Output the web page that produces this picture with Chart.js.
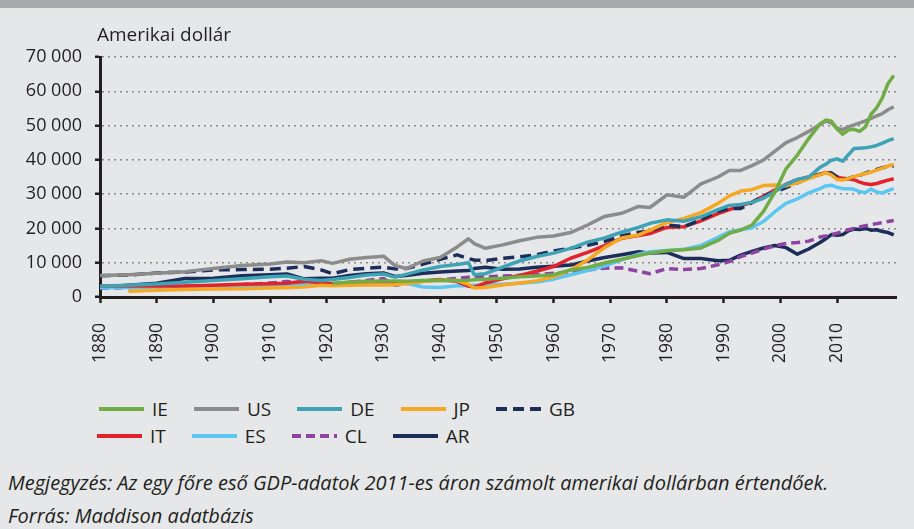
<!DOCTYPE html>
<html lang="hu">
<head>
<meta charset="utf-8">
<script src="https://cdn.jsdelivr.net/npm/chart.js@4.4.1/dist/chart.umd.min.js"></script>
<style>
  html, body { margin: 0; padding: 0; }
  body {
    width: 914px; height: 529px; overflow: hidden; position: relative;
    background: #e6e7e9; color: #231f20; font-family: "Open Sans", sans-serif;
  }
  .topbar { position: absolute; left: 0; top: 0; width: 914px; height: 8px; background: #a7a9ac; }
  #chart { position: absolute; left: 0; top: 0; }
  .unit { position: absolute; left: 97px; top: 21px; font-size: 19px; line-height: 26px; }
  #legend { position: absolute; left: 99px; top: 395px; font-size: 19px; }
  .row { display: flex; height: 27px; align-items: center; }
  .row + .row { margin-left: -2px; }
  .item { display: flex; align-items: center; margin-right: 26px; }
  .item svg { margin-right: 8px; }
  .note { position: absolute; left: 8px; font-style: italic; font-size: 20px; line-height: 27px; white-space: nowrap; }
</style>
</head>
<body>
<div class="topbar"></div>
<canvas id="chart" width="914" height="380"></canvas>
<div class="unit">Amerikai dollár</div>
<div id="legend"></div>
<div class="note" style="top:469px">Megjegyzés: Az egy főre eső GDP-adatok 2011-es áron számolt amerikai dollárban értendőek.</div>
<div class="note" style="top:502px">Forrás: Maddison adatbázis</div>
<script>
// GDP per capita, 2011 USD
const years = [1880, 1885, 1890, 1895, 1900, 1905, 1910, 1913, 1916, 1919,
  1921, 1924, 1927, 1930, 1932, 1934, 1937, 1940, 1943, 1945,
  1946, 1948, 1951, 1954, 1957, 1960, 1963, 1966, 1969, 1972,
  1975, 1977, 1980, 1983, 1986, 1989, 1991, 1993, 1995, 1997,
  1999, 2001, 2003, 2005, 2007, 2008, 2009, 2010, 2011, 2012,
  2013, 2014, 2015, 2016, 2017, 2018, 2019, 2020];

const ieValues = [null, null, null, null, null, null, null, null, null, null,
  4000, 4300, 4600, 4700, 4700, 4600, 4800, 4900, 4800, 4900,
  5000, 5200, 5500, 5900, 6100, 6500, 7900, 8600, 9900, 11000,
  12100, 12800, 13500, 13800, 14300, 16500, 18600, 19500, 21000, 24900,
  30500, 37400, 41400, 46200, 50500, 51600, 51300, 49000, 47500, 48700,
  48900, 48300, 49600, 53300, 55200, 58100, 62300, 64600];
const usValues = [6300, 6500, 6900, 7400, 8300, 9200, 9600, 10200, 10000, 10600,
  9800, 11000, 11500, 11900, 9200, 8300, 10500, 11500, 14600, 17000,
  15600, 14200, 15200, 16400, 17400, 17800, 18800, 21000, 23500, 24400,
  26400, 26100, 29800, 29100, 33000, 35000, 36900, 36900, 38300, 39900,
  42500, 45000, 46500, 48300, 50300, 51300, 50800, 49200, 48800, 49600,
  50200, 50800, 51400, 52100, 52800, 53500, 54600, 55500];
const deValues = [3100, 3400, 3800, 4300, 4800, 5300, 5900, 6100, 5200, 4800,
  5100, 5700, 6400, 6700, 5800, 6600, 7900, 8900, 9500, 10000,
  6500, 6800, 8700, 10500, 11800, 12800, 14200, 16000, 17200, 18900,
  20300, 21500, 22500, 22100, 23400, 25500, 26700, 27000, 27600, 28800,
  30700, 32800, 34300, 35000, 37800, 38700, 39900, 40300, 39600, 41500,
  43300, 43400, 43500, 43800, 44200, 44900, 45600, 46200];
const jpValues = [null, 1700, 2000, 2200, 2300, 2400, 2600, 2700, 2900, 3400,
  3300, 3400, 3500, 3500, 3600, 3900, 4500, 4900, 4800, 3700,
  2600, 2800, 3500, 4100, 4700, 5900, 7900, 10800, 14400, 17200,
  18100, 19500, 21700, 22900, 24600, 27300, 29500, 30900, 31300, 32500,
  32700, 32400, 33300, 34500, 35700, 36300, 35600, 34300, 34100, 34600,
  35100, 35600, 36000, 36400, 37000, 37600, 38200, 38700];
const gbValues = [6200, 6400, 7000, 7300, 7900, 8000, 8100, 8400, 8900, 7900,
  6800, 8000, 8400, 8700, 8200, 8300, 9600, 11000, 12300, 11200,
  10800, 10600, 11300, 11700, 12300, 13400, 14200, 15100, 16200, 17800,
  18900, 19200, 21000, 20500, 22600, 25000, 25800, 25800, 27500, 29400,
  30600, 31900, 33300, 34700, 35800, 36300, 36200, 35000, 34200, 34600,
  35100, 35500, 36100, 36700, 37200, 37700, 38000, 38300];
const itValues = [3200, 3200, 3200, 3200, 3400, 3700, 3900, 4000, 4600, 4200,
  3900, 4300, 4400, 4500, 4400, 4400, 4700, 5100, 4500, 3200,
  2800, 4100, 5300, 6300, 7500, 8900, 11300, 13000, 15000, 17100,
  17900, 18500, 20300, 20500, 22200, 24300, 25500, 26500, 27700, 29400,
  31200, 32900, 34200, 35000, 35800, 36300, 36000, 35000, 34600, 34500,
  34200, 33500, 33000, 32800, 33100, 33600, 34100, 34500];
const esValues = [2700, 2800, 2900, 3000, 3100, 3200, 3300, 3400, 3500, 3600,
  3700, 3900, 4000, 4100, 4000, 4000, 2900, 2800, 3300, 3300,
  3400, 3500, 3700, 4000, 4400, 5200, 6500, 7700, 9000, 10800,
  12500, 13200, 13600, 13900, 15000, 17400, 19000, 19600, 20200, 22000,
  24800, 27300, 28600, 30400, 31600, 32400, 32600, 32000, 31600, 31600,
  31400, 30700, 30500, 31500, 30600, 30300, 31000, 31600];
const clValues = [2600, 2700, 2900, 3100, 3300, 3600, 4100, 4500, 4000, 3700,
  3500, 4300, 4800, 5400, 3400, 3900, 4600, 5000, 5400, 5800,
  6000, 5900, 6100, 6300, 6500, 6900, 7300, 7900, 8400, 8500,
  7500, 6800, 8300, 8000, 8300, 9400, 10300, 11800, 12800, 14000,
  14900, 15600, 15900, 16300, 17500, 17800, 18200, 18600, 19100, 19600,
  20000, 20400, 20800, 21100, 21400, 21700, 22000, 22300];
const arValues = [2900, 3400, 4000, 5400, 5500, 6200, 6500, 6700, 5300, 5500,
  5500, 6300, 6800, 7000, 6000, 6300, 6900, 7300, 7600, 7700,
  8300, 8700, 8100, 8200, 8700, 9000, 9300, 10500, 11500, 12300,
  13200, 12800, 13000, 11200, 11200, 10600, 10700, 12200, 13300, 14300,
  15000, 14400, 12500, 14000, 15900, 17000, 18200, 18000, 18200, 19300,
  19800, 19700, 20000, 19500, 19600, 19100, 18800, 18100];

const yTicks = [0, 10000, 20000, 30000, 40000, 50000, 60000, 70000];

const ink = '#231f20';
const series = [
  { label: 'IE', values: ieValues, color: '#70ad47' },
  { label: 'US', values: usValues, color: '#8c8c8c' },
  { label: 'DE', values: deValues, color: '#3ea3b4' },
  { label: 'JP', values: jpValues, color: '#f7a823' },
  { label: 'GB', values: gbValues, color: '#1c2d5a', dash: [11, 6] },
  { label: 'IT', values: itValues, color: '#e3232b' },
  { label: 'ES', values: esValues, color: '#5bc6f2' },
  { label: 'CL', values: clValues, color: '#8e44a3', dash: [9, 5] },
  { label: 'AR', values: arValues, color: '#1c2d5a' }
];

function spaced(v) {
  return String(v).replace(/\B(?=(\d{3})+(?!\d))/g, ' ');
}

const chart = new Chart(document.getElementById('chart'), {
  type: 'line',
  data: {
    datasets: series.map(s => ({
      label: s.label,
      data: years.map((yr, i) => ({ x: yr, y: s.values[i] })),
      borderColor: s.color,
      borderWidth: 3.5,
      borderDash: s.dash || [],
      borderJoinStyle: 'round',
      pointRadius: 0,
      tension: 0,
      fill: false
    }))
  },
  options: {
    responsive: false,
    animation: false,
    devicePixelRatio: 1,
    layout: { padding: { top: 57, right: 18, left: 0, bottom: 0 } },
    plugins: { legend: { display: false }, tooltip: { enabled: false } },
    scales: {
      x: {
        type: 'linear',
        min: 1880,
        max: 2020.4,
        afterBuildTicks: s => { s.ticks = s.ticks.filter(t => t.value <= 2010); },
        afterFit: s => { s.height = 83; },
        ticks: {
          stepSize: 10, minRotation: 90, maxRotation: 90, padding: 20, autoSkip: false,
          color: ink, font: { family: 'Open Sans', size: 17.5 },
          callback: v => String(v)
        },
        grid: { drawOnChartArea: false, tickLength: 6, tickColor: ink, tickWidth: 2.5 },
        border: { color: ink, width: 3 }
      },
      y: {
        min: 0,
        max: 70000,
        afterBuildTicks: s => { s.ticks = yTicks.map(v => ({ value: v })); },
        afterFit: s => { s.width = 100; },
        ticks: {
          padding: 13, color: ink, font: { family: 'Open Sans', size: 18 },
          callback: v => spaced(v)
        },
        grid: {
          color: c => (c.tick && c.tick.value === 0) ? 'rgba(0,0,0,0)' : '#8a8a8a',
          lineWidth: 1.5,
          tickLength: 5, tickColor: ink, tickWidth: 2.5, tickBorderDash: []
        },
        border: { color: ink, width: 3, dash: [2, 4] }
      }
    }
  }
});

// legend in two rows, like the original
const legend = document.getElementById('legend');
[series.slice(0, 5), series.slice(5)].forEach(group => {
  const row = document.createElement('div');
  row.className = 'row';
  group.forEach(s => {
    const item = document.createElement('div');
    item.className = 'item';
    const dash = s.dash ? ` stroke-dasharray="${s.dash.join(' ')}"` : '';
    item.innerHTML = `<svg width="45" height="6"><line x1="0" y1="3" x2="45" y2="3" stroke="${s.color}" stroke-width="4"${dash}/></svg><span>${s.label}</span>`;
    row.appendChild(item);
  });
  legend.appendChild(row);
});
</script>
</body>
</html>
